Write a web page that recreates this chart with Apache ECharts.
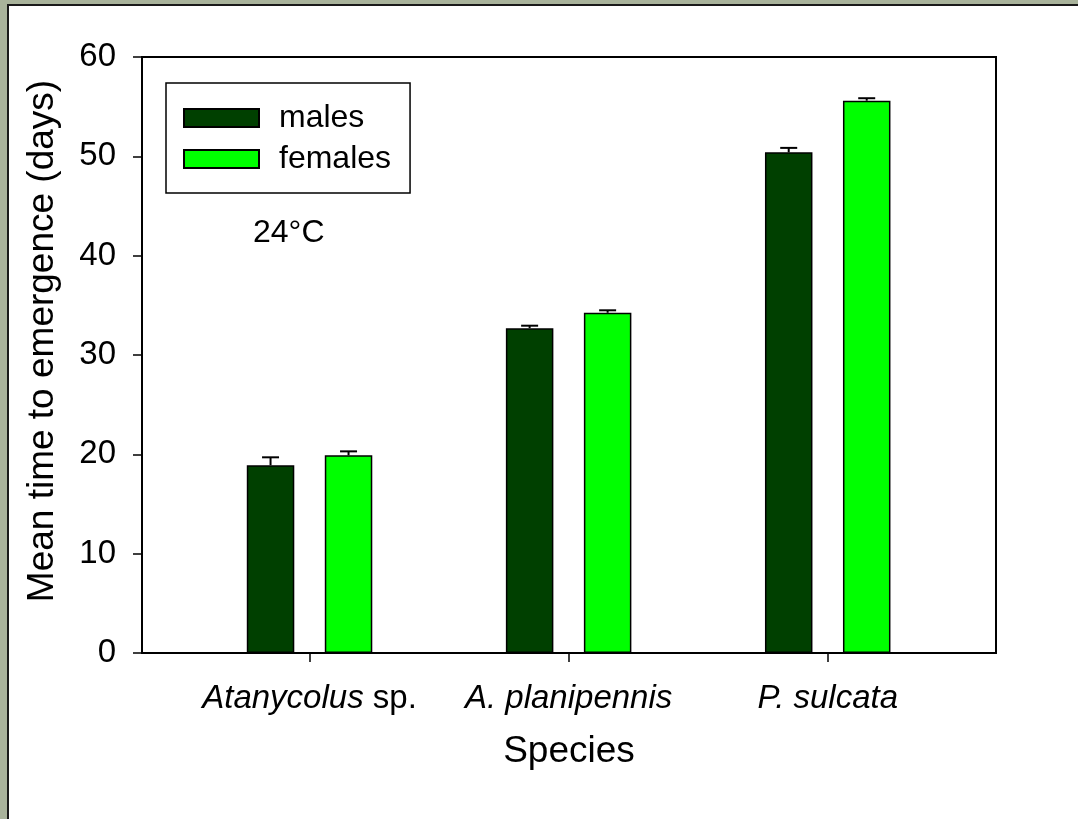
<!DOCTYPE html>
<html>
<head>
<meta charset="utf-8">
<script src="https://cdn.jsdelivr.net/npm/echarts@6/dist/echarts.min.js"></script>
<style>
  html, body { margin: 0; padding: 0; background: #a9b39b; }
  .frame {
    position: absolute; left: 7px; top: 4px; right: 0; bottom: 0;
    background: #fff; border-left: 2px solid #1a1a1a; border-top: 2px solid #1a1a1a;
  }
  #chart { position: absolute; left: 0; top: 0; width: 1078px; height: 819px; }
</style>
</head>
<body>
<div class="frame"></div>
<div id="chart"></div>
<script>
const species = ['Atanycolus sp.', 'A. planipennis', 'P. sulcata']
const males = [18.9, 32.7, 50.4]
const malesErr = [0.8, 0.25, 0.45]
const females = [19.9, 34.25, 55.6]
const femalesErr = [0.4, 0.25, 0.25]
const yTicks = [0, 10, 20, 30, 40, 50, 60]

const BAR_W = 47.5
const BAR_GAP = 30.5
const font = 'Liberation Sans, Arial, sans-serif'

const myCharts = echarts.init(document.getElementById('chart'))

function errSeries(vals, errs, side) {
  return {
    type: 'custom',
    xAxisIndex: 1,
    yAxisIndex: 1,
    z: 5,
    silent: true,
    encode: {x: 0, y: 1},
    data: vals.map((v, i) => [i, v, errs[i]]),
    renderItem: function (params, api) {
      const base = api.coord([api.value(0), api.value(1)])
      const top = api.coord([api.value(0), api.value(1) + api.value(2)])
      const x = base[0] + side * (BAR_W + BAR_GAP) / 2
      const style = {stroke: '#000', lineWidth: 2}
      return {
        type: 'group',
        children: [
          {type: 'line', shape: {x1: x, y1: base[1], x2: x, y2: top[1]}, style: style},
          {type: 'line', shape: {x1: x - 8.5, y1: top[1], x2: x + 8.5, y2: top[1]}, style: style}
        ]
      }
    }
  }
}

let option = {
  animation: false,
  textStyle: {fontFamily: font},
  grid: [
    {left: 142, right: 82, top: 57, bottom: 166, show: true, borderColor: '#000', borderWidth: 2},
    {left: 180, right: 120.75, top: 57, bottom: 166}
  ],
  legend: {
    data: ['males', 'females'],
    orient: 'vertical',
    left: 166,
    top: 83,
    padding: [19, 19, 18, 17],
    itemWidth: 75,
    itemHeight: 18,
    itemGap: 9,
    borderColor: '#000',
    borderWidth: 1.5,
    backgroundColor: '#fff',
    icon: 'rect',
    textStyle: {fontSize: 32, color: '#000', fontFamily: font, padding: [0, 0, 0, 15]}
  },
  graphic: [
    {type: 'text', left: 253, top: 217, style: {text: '24°C', font: '32px ' + font, fill: '#000'}}
  ],
  xAxis: [
    {
      gridIndex: 0,
      type: 'category',
      data: [],
      axisLine: {lineStyle: {color: '#000', width: 2}},
      axisTick: {show: false},
      axisLabel: {show: false},
      name: 'Species',
      nameLocation: 'middle',
      nameGap: 80,
      nameTextStyle: {fontSize: 37, color: '#000', fontFamily: font}
    },
    {
      gridIndex: 1,
      type: 'category',
      data: species,
      axisLine: {show: false},
      axisTick: {show: true, alignWithLabel: true, length: 9, lineStyle: {color: '#000', width: 1.5}},
      axisLabel: {
        interval: 0,
        margin: 29,
        fontSize: 33,
        color: '#000',
        fontFamily: font,
        formatter: v => v.endsWith(' sp.') ? '{i|' + v.slice(0, -4) + '} sp.' : '{i|' + v + '}',
        rich: {i: {fontStyle: 'italic', fontSize: 33, color: '#000', fontFamily: font}}
      }
    }
  ],
  yAxis: [
    {
      gridIndex: 0,
      type: 'value',
      min: yTicks[0],
      max: yTicks[yTicks.length - 1],
      interval: 10,
      axisLine: {show: true, lineStyle: {color: '#000', width: 2}},
      axisTick: {show: true, length: 9, lineStyle: {color: '#000', width: 1.5}},
      axisLabel: {margin: 26, fontSize: 33, color: '#000', fontFamily: font},
      splitLine: {show: false},
      name: 'Mean time to emergence (days)',
      nameLocation: 'middle',
      nameGap: 81,
      nameTextStyle: {fontSize: 37, color: '#000', fontFamily: font, padding: [0, 0, 0, 28]}
    },
    {
      gridIndex: 1,
      type: 'value',
      min: 0,
      max: 60,
      show: false,
      splitLine: {show: false}
    }
  ],
  series: [
    {
      name: 'males',
      type: 'bar',
      xAxisIndex: 1,
      yAxisIndex: 1,
      barWidth: BAR_W,
      barGap: (BAR_GAP / BAR_W * 100) + '%',
      itemStyle: {color: '#004000', borderColor: '#000', borderWidth: 1.5},
      data: males
    },
    {
      name: 'females',
      type: 'bar',
      xAxisIndex: 1,
      yAxisIndex: 1,
      barWidth: BAR_W,
      itemStyle: {color: '#00ff00', borderColor: '#000', borderWidth: 1.5},
      data: females
    },
    errSeries(males, malesErr, -1),
    errSeries(females, femalesErr, 1)
  ]
}
myCharts.setOption(option)
</script>
</body>
</html>
